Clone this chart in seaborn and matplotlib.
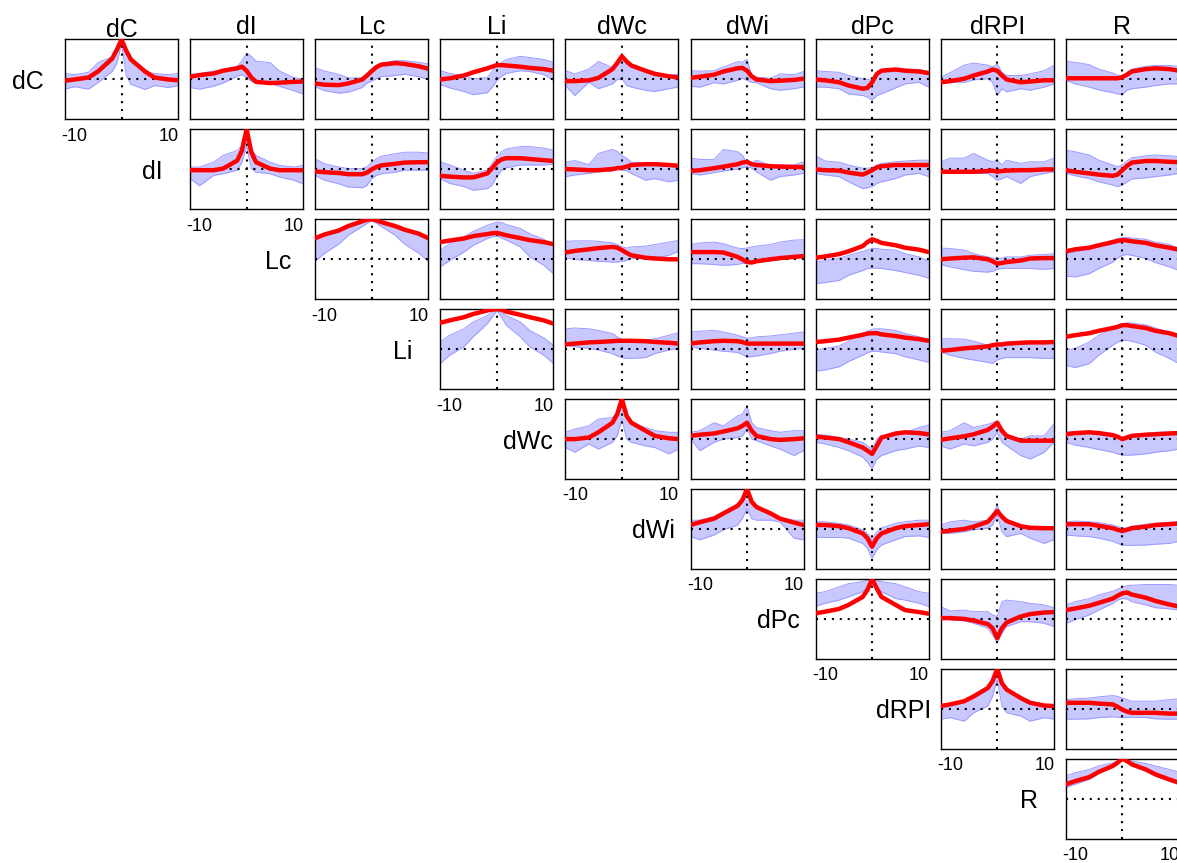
import matplotlib
matplotlib.use('Agg')
import matplotlib.pyplot as plt
import seaborn as sns

VARS = ['dC', 'dI', 'Lc', 'Li', 'dWc', 'dWi', 'dPc', 'dRPI', 'R']
LAGS = [-12, -10, -7, -5, -2, -1, 0, 1, 2, 5, 7, 10, 12]
TICKS = [-10, 10]

# each row: cross-correlation of that variable with itself and the variables to its right
xc_dC = [
    [-0.03, 0.0, 0.05, 0.2, 0.52, 0.74, 1.0, 0.72, 0.5, 0.2, 0.05, 0.0, -0.02],
    [0.07, 0.11, 0.15, 0.22, 0.28, 0.32, 0.22, 0.05, -0.06, -0.09, -0.08, -0.06, -0.05],
    [-0.1, -0.13, -0.14, -0.1, 0.0, 0.1, 0.21, 0.31, 0.37, 0.41, 0.39, 0.33, 0.27],
    [0.0, 0.03, 0.1, 0.18, 0.28, 0.32, 0.36, 0.36, 0.35, 0.32, 0.29, 0.26, 0.22],
    [-0.04, -0.04, -0.02, 0.04, 0.26, 0.41, 0.58, 0.45, 0.35, 0.22, 0.14, 0.08, 0.05],
    [0.04, 0.07, 0.12, 0.2, 0.28, 0.29, 0.22, 0.08, 0.0, -0.04, -0.03, -0.01, 0.02],
    [0.0, -0.02, -0.07, -0.15, -0.23, -0.21, -0.07, 0.14, 0.22, 0.25, 0.22, 0.2, 0.16],
    [-0.07, -0.04, 0.02, 0.1, 0.2, 0.25, 0.22, 0.1, 0.0, -0.07, -0.05, -0.02, -0.02],
    [0.03, 0.03, 0.03, 0.03, 0.03, 0.03, 0.06, 0.12, 0.2, 0.26, 0.28, 0.26, 0.22],
]
lo_dC = [
    [-0.24, -0.18, -0.24, -0.08, 0.2, 0.4, 0.9, 0.1, -0.12, -0.25, -0.15, -0.2, -0.15],
    [-0.2, -0.24, -0.17, -0.09, 0.08, 0.12, 0.05, -0.05, -0.08, -0.1, -0.17, -0.28, -0.36],
    [-0.18, -0.28, -0.34, -0.32, -0.2, -0.09, -0.04, 0.02, 0.07, 0.1, 0.13, 0.07, 0.0],
    [-0.13, -0.21, -0.3, -0.38, -0.33, -0.2, -0.03, 0.08, 0.15, 0.22, 0.2, 0.12, -0.02],
    [-0.15, -0.4, -0.07, -0.23, -0.11, 0.0, 0.02, -0.15, -0.19, -0.27, -0.3, -0.23, -0.19],
    [-0.17, -0.19, -0.08, -0.11, -0.02, 0.03, -0.02, -0.07, -0.08, -0.23, -0.27, -0.23, -0.19],
    [-0.19, -0.19, -0.23, -0.36, -0.4, -0.44, -0.52, -0.4, -0.36, -0.21, -0.11, -0.07, -0.19],
    [-0.11, -0.07, -0.07, -0.01, 0.02, -0.07, -0.4, -0.23, -0.31, -0.23, -0.27, -0.19, -0.11],
    [-0.02, -0.11, -0.19, -0.26, -0.33, -0.36, -0.38, -0.27, -0.23, -0.19, -0.15, -0.11, -0.11],
]
hi_dC = [
    [0.15, 0.12, 0.18, 0.42, 0.57, 0.76, 1.0, 0.74, 0.52, 0.2, 0.15, 0.12, 0.15],
    [0.13, 0.15, 0.21, 0.25, 0.33, 0.46, 0.66, 0.58, 0.46, 0.42, 0.21, 0.05, 0.0],
    [0.29, 0.21, 0.13, 0.04, 0.04, 0.13, 0.25, 0.35, 0.41, 0.47, 0.47, 0.43, 0.39],
    [0.22, 0.15, 0.1, 0.02, 0.05, 0.2, 0.35, 0.42, 0.5, 0.58, 0.55, 0.5, 0.43],
    [0.22, 0.14, 0.26, 0.45, 0.3, 0.42, 0.58, 0.45, 0.35, 0.22, 0.14, 0.09, 0.14],
    [0.22, 0.21, 0.22, 0.31, 0.45, 0.43, 0.5, 0.1, 0.06, 0.03, 0.14, 0.12, 0.2],
    [0.22, 0.2, 0.18, 0.1, 0.02, 0.0, 0.02, 0.18, 0.25, 0.28, 0.26, 0.25, 0.2],
    [0.06, 0.17, 0.36, 0.41, 0.36, 0.31, 0.39, 0.18, 0.1, 0.1, 0.14, 0.22, 0.35],
    [0.45, 0.43, 0.37, 0.26, 0.16, 0.1, 0.1, 0.18, 0.26, 0.33, 0.35, 0.35, 0.33],
]

xc_dI = [
    [-0.02, -0.02, -0.02, 0.02, 0.22, 0.47, 1.0, 0.43, 0.18, 0.02, -0.02, -0.02, -0.02],
    [-0.05, -0.07, -0.09, -0.12, -0.12, -0.08, 0.0, 0.06, 0.1, 0.14, 0.17, 0.18, 0.18],
    [-0.16, -0.18, -0.2, -0.2, -0.1, 0.03, 0.17, 0.25, 0.28, 0.28, 0.26, 0.23, 0.21],
    [0.01, 0.0, -0.02, -0.02, 0.01, 0.03, 0.04, 0.07, 0.11, 0.13, 0.13, 0.11, 0.09],
    [-0.04, -0.02, 0.03, 0.07, 0.13, 0.17, 0.19, 0.13, 0.11, 0.08, 0.07, 0.06, 0.06],
    [0.0, -0.02, -0.03, -0.08, -0.13, -0.08, -0.02, 0.05, 0.08, 0.11, 0.11, 0.11, 0.11],
    [-0.06, -0.06, -0.06, -0.06, -0.04, -0.03, -0.06, -0.04, -0.03, -0.02, -0.02, 0.0, 0.0],
    [-0.02, -0.06, -0.1, -0.13, -0.16, -0.13, -0.02, 0.09, 0.17, 0.21, 0.21, 0.19, 0.18],
]
lo_dI = [
    [-0.23, -0.41, -0.15, -0.11, -0.02, 0.18, 0.6, 0.02, -0.07, -0.11, -0.19, -0.27, -0.36],
    [-0.15, -0.27, -0.36, -0.44, -0.46, -0.4, -0.23, -0.15, -0.11, -0.07, -0.02, -0.02, -0.02],
    [-0.23, -0.35, -0.43, -0.52, -0.48, -0.39, -0.18, -0.02, 0.04, 0.11, 0.11, 0.11, 0.13],
    [-0.18, -0.14, -0.1, -0.06, -0.04, 0.01, -0.02, -0.03, -0.1, -0.27, -0.23, -0.31, -0.27],
    [-0.1, -0.14, -0.08, -0.04, 0.01, 0.04, 0.07, 0.03, -0.06, -0.27, -0.18, -0.14, -0.1],
    [-0.1, -0.14, -0.18, -0.31, -0.48, -0.46, -0.43, -0.35, -0.31, -0.23, -0.14, -0.1, -0.18],
    [-0.1, -0.1, -0.1, -0.1, -0.1, -0.18, -0.27, -0.23, -0.18, -0.35, -0.18, -0.1, -0.06],
    [-0.1, -0.16, -0.23, -0.31, -0.39, -0.43, -0.39, -0.31, -0.24, -0.21, -0.18, -0.14, -0.1],
]
hi_dI = [
    [0.06, 0.06, 0.18, 0.35, 0.47, 0.6, 1.0, 0.51, 0.35, 0.18, 0.1, 0.06, 0.1],
    [0.26, 0.14, 0.06, 0.02, 0.02, 0.06, 0.18, 0.26, 0.33, 0.39, 0.43, 0.43, 0.41],
    [0.19, 0.11, -0.02, -0.1, -0.02, 0.15, 0.32, 0.44, 0.51, 0.57, 0.57, 0.53, 0.48],
    [0.18, 0.22, 0.12, 0.4, 0.5, 0.45, 0.35, 0.28, 0.18, 0.16, 0.1, 0.06, 0.1],
    [0.28, 0.25, 0.25, 0.5, 0.44, 0.36, 0.15, 0.15, 0.23, 0.1, 0.11, 0.11, 0.19],
    [0.34, 0.21, 0.18, 0.11, 0.03, 0.03, 0.04, 0.11, 0.15, 0.19, 0.21, 0.23, 0.23],
    [0.19, 0.28, 0.28, 0.4, 0.23, 0.19, 0.23, 0.11, 0.23, 0.15, 0.19, 0.19, 0.28],
    [0.48, 0.44, 0.36, 0.23, 0.11, 0.07, 0.11, 0.21, 0.29, 0.34, 0.36, 0.34, 0.32],
]

xc_Lc = [
    [0.53, 0.62, 0.72, 0.83, 0.95, 0.99, 1.0, 0.98, 0.93, 0.83, 0.74, 0.64, 0.53],
    [0.43, 0.47, 0.52, 0.58, 0.63, 0.65, 0.66, 0.63, 0.6, 0.53, 0.48, 0.43, 0.38],
    [0.17, 0.21, 0.25, 0.28, 0.31, 0.29, 0.23, 0.16, 0.1, 0.04, 0.02, 0.0, 0.0],
    [0.18, 0.18, 0.18, 0.17, 0.06, 0.0, -0.07, -0.08, -0.05, 0.0, 0.03, 0.06, 0.08],
    [0.04, 0.07, 0.13, 0.2, 0.33, 0.43, 0.5, 0.46, 0.41, 0.35, 0.29, 0.24, 0.18],
    [0.0, 0.02, 0.04, 0.05, 0.0, -0.05, -0.11, -0.09, -0.07, -0.03, 0.02, 0.03, 0.03],
    [0.2, 0.25, 0.29, 0.35, 0.43, 0.46, 0.48, 0.47, 0.45, 0.41, 0.35, 0.29, 0.24],
]
lo_Lc = [
    [-0.05, 0.15, 0.38, 0.6, 0.82, 0.9, 0.96, 0.9, 0.82, 0.6, 0.38, 0.15, -0.05],
    [-0.19, -0.03, 0.18, 0.35, 0.52, 0.56, 0.58, 0.53, 0.48, 0.31, 0.06, -0.15, -0.36],
    [0.03, 0.0, -0.03, -0.05, -0.07, -0.07, -0.05, -0.03, 0.02, 0.02, 0.03, 0.1, 0.2],
    [-0.11, -0.11, -0.13, -0.15, -0.13, -0.1, -0.1, -0.1, -0.08, -0.04, 0.0, 0.03, 0.06],
    [-0.61, -0.58, -0.53, -0.4, -0.28, -0.23, -0.22, -0.22, -0.23, -0.28, -0.33, -0.4, -0.47],
    [-0.13, -0.19, -0.26, -0.3, -0.32, -0.3, -0.25, -0.23, -0.23, -0.23, -0.23, -0.25, -0.23],
    [-0.42, -0.44, -0.36, -0.23, -0.07, 0.03, 0.1, 0.12, 0.1, 0.02, -0.08, -0.19, -0.28],
]
hi_Lc = [
    [0.5, 0.6, 0.7, 0.81, 0.93, 0.97, 0.99, 0.97, 0.92, 0.82, 0.72, 0.62, 0.5],
    [0.23, 0.39, 0.56, 0.7, 0.85, 0.89, 0.93, 0.92, 0.87, 0.77, 0.64, 0.5, 0.35],
    [0.45, 0.46, 0.46, 0.45, 0.41, 0.37, 0.31, 0.28, 0.31, 0.33, 0.37, 0.43, 0.47],
    [0.37, 0.41, 0.43, 0.39, 0.28, 0.27, 0.28, 0.31, 0.33, 0.37, 0.43, 0.48, 0.49],
    [-0.07, -0.03, 0.03, 0.1, 0.2, 0.23, 0.27, 0.27, 0.25, 0.23, 0.14, 0.06, -0.05],
    [0.28, 0.27, 0.23, 0.14, 0.06, 0.03, 0.02, 0.03, 0.06, 0.06, 0.1, 0.12, 0.14],
    [0.14, 0.18, 0.25, 0.35, 0.48, 0.52, 0.54, 0.55, 0.53, 0.5, 0.43, 0.37, 0.28],
]

xc_Li = [
    [0.66, 0.72, 0.8, 0.88, 0.97, 0.99, 1.0, 0.99, 0.94, 0.86, 0.8, 0.72, 0.64],
    [0.12, 0.14, 0.17, 0.18, 0.2, 0.21, 0.21, 0.21, 0.21, 0.2, 0.18, 0.16, 0.14],
    [0.14, 0.17, 0.2, 0.21, 0.2, 0.18, 0.14, 0.14, 0.14, 0.14, 0.14, 0.14, 0.14],
    [0.18, 0.2, 0.24, 0.29, 0.36, 0.39, 0.4, 0.4, 0.37, 0.33, 0.29, 0.25, 0.21],
    [-0.04, -0.02, 0.02, 0.04, 0.07, 0.1, 0.12, 0.12, 0.14, 0.16, 0.17, 0.17, 0.18],
    [0.31, 0.35, 0.4, 0.46, 0.53, 0.56, 0.6, 0.6, 0.58, 0.53, 0.46, 0.4, 0.33],
]
lo_Li = [
    [-0.36, -0.15, 0.06, 0.31, 0.64, 0.8, 0.96, 0.8, 0.6, 0.31, 0.06, -0.15, -0.36],
    [0.1, 0.06, 0.02, -0.02, -0.11, -0.17, -0.21, -0.23, -0.23, -0.21, -0.11, -0.02, 0.02],
    [0.06, 0.02, -0.02, -0.05, -0.08, -0.13, -0.19, -0.19, -0.17, -0.11, -0.05, 0.0, 0.02],
    [-0.55, -0.52, -0.44, -0.31, -0.15, -0.09, -0.05, -0.05, -0.07, -0.11, -0.19, -0.27, -0.33],
    [-0.07, -0.15, -0.23, -0.27, -0.33, -0.36, -0.27, -0.23, -0.21, -0.21, -0.21, -0.23, -0.23],
    [-0.4, -0.46, -0.36, -0.15, 0.1, 0.18, 0.22, 0.22, 0.2, 0.1, -0.07, -0.23, -0.36],
]
hi_Li = [
    [0.18, 0.35, 0.51, 0.68, 0.84, 0.92, 0.98, 0.92, 0.84, 0.68, 0.47, 0.28, 0.1],
    [0.51, 0.53, 0.51, 0.47, 0.39, 0.31, 0.25, 0.22, 0.22, 0.22, 0.26, 0.35, 0.41],
    [0.43, 0.45, 0.47, 0.43, 0.35, 0.31, 0.28, 0.28, 0.31, 0.33, 0.36, 0.4, 0.43],
    [-0.02, 0.02, 0.08, 0.2, 0.39, 0.45, 0.5, 0.51, 0.51, 0.47, 0.39, 0.31, 0.25],
    [0.26, 0.26, 0.25, 0.2, 0.1, 0.07, 0.06, 0.07, 0.1, 0.12, 0.14, 0.16, 0.17],
    [-0.02, 0.02, 0.18, 0.35, 0.51, 0.6, 0.64, 0.66, 0.65, 0.61, 0.53, 0.43, 0.33],
]

xc_dWc = [
    [0.0, 0.0, 0.04, 0.17, 0.41, 0.62, 1.0, 0.58, 0.41, 0.21, 0.08, 0.02, 0.0],
    [0.08, 0.11, 0.14, 0.19, 0.27, 0.33, 0.41, 0.21, 0.08, 0.0, -0.02, 0.0, 0.02],
    [0.06, 0.04, 0.0, -0.08, -0.21, -0.29, -0.37, -0.17, 0.04, 0.14, 0.17, 0.15, 0.12],
    [-0.02, 0.02, 0.07, 0.12, 0.23, 0.31, 0.41, 0.21, 0.08, -0.04, -0.04, -0.04, -0.04],
    [0.12, 0.15, 0.17, 0.15, 0.1, 0.06, 0.0, 0.04, 0.08, 0.11, 0.12, 0.14, 0.15],
]
lo_dWc = [
    [-0.21, -0.33, -0.12, -0.25, -0.08, 0.08, 0.5, 0.0, -0.08, -0.17, -0.21, -0.37, -0.25],
    [0.0, -0.29, -0.08, 0.0, 0.04, 0.08, 0.25, 0.0, -0.04, -0.17, -0.25, -0.41, -0.29],
    [-0.08, -0.12, -0.21, -0.29, -0.45, -0.58, -0.74, -0.5, -0.41, -0.29, -0.25, -0.17, -0.21],
    [-0.17, -0.25, -0.12, -0.17, -0.08, 0.0, 0.17, -0.08, -0.17, -0.41, -0.5, -0.33, -0.08],
    [-0.08, -0.15, -0.21, -0.26, -0.33, -0.37, -0.4, -0.4, -0.4, -0.37, -0.33, -0.29, -0.25],
]
hi_dWc = [
    [0.17, 0.25, 0.33, 0.5, 0.54, 0.66, 1.0, 0.62, 0.41, 0.29, 0.21, 0.17, 0.17],
    [0.17, 0.21, 0.41, 0.33, 0.58, 0.62, 0.83, 0.41, 0.29, 0.21, 0.17, 0.21, 0.21],
    [0.12, 0.1, 0.04, 0.0, -0.08, -0.17, -0.25, 0.0, 0.08, 0.08, 0.17, 0.29, 0.35],
    [0.17, 0.21, 0.41, 0.29, 0.37, 0.41, 0.45, 0.12, 0.08, 0.0, 0.08, 0.08, 0.37],
    [0.18, 0.18, 0.18, 0.17, 0.12, 0.08, 0.04, 0.08, 0.12, 0.14, 0.17, 0.18, 0.18],
]

xc_dWi = [
    [0.1, 0.17, 0.26, 0.39, 0.58, 0.72, 1.0, 0.68, 0.55, 0.39, 0.26, 0.16, 0.1],
    [0.1, 0.1, 0.07, 0.02, -0.11, -0.23, -0.44, -0.23, -0.11, 0.02, 0.07, 0.1, 0.12],
    [-0.07, -0.04, 0.0, 0.06, 0.18, 0.31, 0.45, 0.31, 0.2, 0.07, 0.03, 0.02, 0.02],
    [0.12, 0.12, 0.12, 0.08, 0.02, -0.02, -0.05, -0.02, 0.02, 0.06, 0.1, 0.12, 0.14],
]
lo_dWi = [
    [-0.19, -0.27, -0.15, -0.02, 0.1, 0.26, 0.51, 0.26, 0.22, 0.22, 0.18, -0.23, -0.27],
    [-0.21, -0.21, -0.21, -0.23, -0.36, -0.48, -0.73, -0.52, -0.4, -0.27, -0.19, -0.17, -0.21],
    [-0.11, -0.11, -0.07, -0.02, 0.02, 0.1, 0.35, -0.07, -0.19, -0.11, -0.23, -0.36, -0.27],
    [-0.15, -0.17, -0.19, -0.23, -0.31, -0.36, -0.4, -0.41, -0.41, -0.4, -0.38, -0.36, -0.31],
]
hi_dWi = [
    [0.22, 0.22, 0.31, 0.43, 0.6, 0.72, 1.0, 0.72, 0.55, 0.39, 0.28, 0.22, 0.22],
    [0.18, 0.18, 0.14, 0.1, -0.02, -0.11, -0.27, -0.07, 0.03, 0.14, 0.18, 0.22, 0.22],
    [0.1, 0.18, 0.22, 0.18, 0.22, 0.35, 0.6, 0.31, 0.18, 0.06, 0.02, 0.02, 0.02],
    [0.18, 0.2, 0.18, 0.16, 0.1, 0.06, 0.02, 0.03, 0.07, 0.12, 0.14, 0.17, 0.18],
]

xc_dPc = [
    [0.14, 0.18, 0.25, 0.35, 0.55, 0.72, 1.0, 0.76, 0.55, 0.35, 0.22, 0.17, 0.13],
    [0.02, 0.02, 0.0, -0.04, -0.13, -0.23, -0.48, -0.23, -0.09, 0.06, 0.12, 0.16, 0.17],
    [0.22, 0.26, 0.33, 0.4, 0.51, 0.58, 0.64, 0.66, 0.61, 0.53, 0.45, 0.36, 0.31],
]
lo_dPc = [
    [0.31, 0.39, 0.47, 0.55, 0.68, 0.8, 0.93, 0.8, 0.68, 0.51, 0.47, 0.39, 0.31],
    [0.02, -0.02, -0.05, -0.11, -0.23, -0.4, -0.6, -0.36, -0.19, -0.07, -0.07, -0.11, -0.19],
    [-0.11, -0.02, 0.1, 0.22, 0.39, 0.47, 0.51, 0.5, 0.43, 0.35, 0.28, 0.25, 0.22],
]
hi_dPc = [
    [0.64, 0.68, 0.8, 0.88, 0.93, 0.97, 1.0, 0.97, 0.93, 0.88, 0.8, 0.68, 0.64],
    [0.31, 0.2, 0.22, 0.18, 0.18, 0.1, 0.06, 0.43, 0.47, 0.43, 0.39, 0.35, 0.28],
    [0.35, 0.43, 0.51, 0.6, 0.69, 0.74, 0.8, 0.83, 0.84, 0.86, 0.86, 0.86, 0.84],
]

xc_dRPI = [
    [0.07, 0.11, 0.19, 0.31, 0.52, 0.69, 1.0, 0.64, 0.48, 0.27, 0.15, 0.08, 0.07],
    [0.15, 0.15, 0.15, 0.13, 0.11, 0.05, -0.02, -0.07, -0.1, -0.1, -0.1, -0.12, -0.12],
]
lo_dRPI = [
    [-0.26, -0.22, -0.31, -0.1, 0.07, 0.31, 0.73, 0.07, -0.1, -0.18, -0.31, -0.22, -0.26],
    [-0.26, -0.26, -0.25, -0.22, -0.2, -0.21, -0.22, -0.22, -0.21, -0.22, -0.25, -0.26, -0.26],
]
hi_dRPI = [
    [0.09, 0.13, 0.21, 0.33, 0.53, 0.7, 1.0, 0.66, 0.5, 0.29, 0.17, 0.1, 0.09],
    [0.23, 0.25, 0.27, 0.3, 0.33, 0.31, 0.27, 0.23, 0.19, 0.19, 0.19, 0.23, 0.25],
]

xc_R = [[0.36, 0.44, 0.54, 0.67, 0.82, 0.9, 1.0, 0.94, 0.86, 0.73, 0.61, 0.48, 0.4]]
lo_R = [[0.28, 0.36, 0.48, 0.63, 0.8, 0.88, 0.97, 0.92, 0.82, 0.69, 0.57, 0.44, 0.36]]
hi_R = [[0.57, 0.65, 0.73, 0.82, 0.9, 0.94, 1.0, 0.97, 0.94, 0.88, 0.82, 0.73, 0.67]]

XC = [xc_dC, xc_dI, xc_Lc, xc_Li, xc_dWc, xc_dWi, xc_dPc, xc_dRPI, xc_R]
LO = [lo_dC, lo_dI, lo_Lc, lo_Li, lo_dWc, lo_dWi, lo_dPc, lo_dRPI, lo_R]
HI = [hi_dC, hi_dI, hi_Lc, hi_Li, hi_dWc, hi_dWi, hi_dPc, hi_dRPI, hi_R]

BAND = '#c8c8ff'
BAND_EDGE = '#9a9aff'

sns.set_theme(style='white')
plt.rcParams['font.family'] = ['Liberation Sans', 'DejaVu Sans']
plt.rcParams['text.color'] = 'black'
plt.rcParams['axes.titlecolor'] = 'black'
plt.rcParams['xtick.color'] = 'black'
plt.rcParams['xtick.labelcolor'] = 'black'

W, H = 1177, 863
fig = plt.figure(figsize=(W / 100, H / 100), dpi=100)

# panel grid in pixels
x0, dx, pw = 65, 125.1, 113
y0, dy, ph = 39.5, 89.9, 80

for i, row_name in enumerate(VARS):
    for k, j in enumerate(range(i, len(VARS))):
        left = x0 + dx * j
        top = y0 + dy * i
        ax = fig.add_axes([left / W, 1 - (top + ph) / H, pw / W, ph / H])

        ax.fill_between(LAGS, LO[i][k], HI[i][k], color=BAND, lw=0, zorder=1)
        ax.plot(LAGS, LO[i][k], color=BAND_EDGE, lw=0.7, zorder=1)
        ax.plot(LAGS, HI[i][k], color=BAND_EDGE, lw=0.7, zorder=1)
        ax.axhline(0, color='black', lw=1.5, ls=(0, (1, 2.8)), zorder=2)
        ax.axvline(0, color='black', lw=1.5, ls=(0, (1, 2.8)), zorder=2)
        sns.lineplot(x=LAGS, y=XC[i][k], ax=ax, color='red', lw=3.2, zorder=3)

        ax.set_xlim(-12, 12)
        ax.set_ylim(-1, 1)
        ax.set_yticks([])
        ax.set_xticks(TICKS)
        ax.set_xlabel('')
        ax.set_ylabel('')
        ax.tick_params(axis='x', length=0, pad=6, labelsize=13, colors='black')
        for sp in ax.spines.values():
            sp.set_visible(True)
            sp.set_color('black')
            sp.set_linewidth(1.0)

        if i == j:
            ax.set_xticklabels(['-10', '10'])
            ax.text(-0.33, 0.47, row_name, transform=ax.transAxes,
                    ha='center', va='center', fontsize=18, color='black')
        else:
            ax.set_xticklabels([])

        if i == 0:
            ax.set_title(VARS[j], fontsize=18, pad=2, color='black')

fig.savefig('out.png', dpi=100)
